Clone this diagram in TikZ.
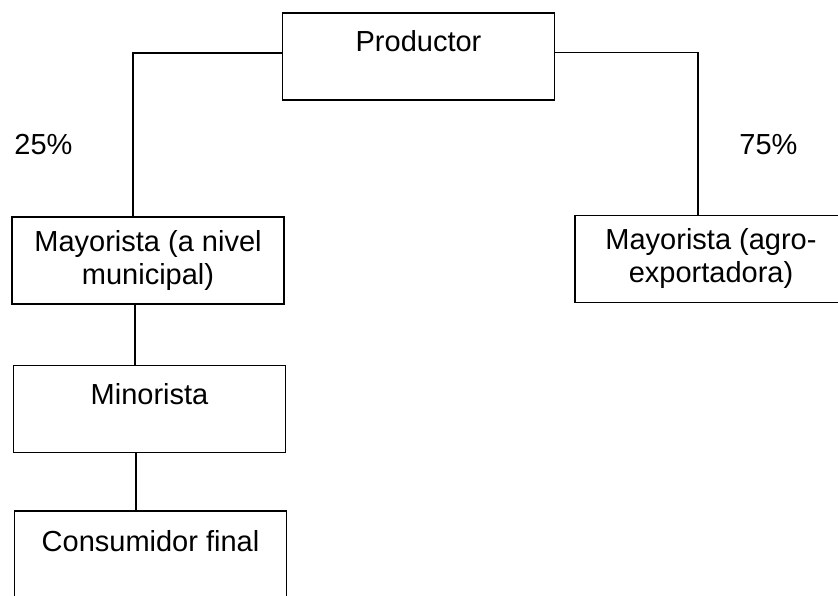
\documentclass[tikz,border=0pt]{standalone}
\usepackage{fontspec}
\setmainfont{Liberation Sans}
\usetikzlibrary{positioning}
\tikzset{
caja/.style={draw, line width=1.2pt, inner sep=0pt, minimum width=272pt, align=center, font=\fontsize{29}{33}\selectfont}, % boxes of the chain
unalinea/.style={text height=39pt, text depth=48pt}, % one line at the top of the box
doslineas/.style={minimum height=87pt}, % two lines, centred
etiqueta/.style={inner sep=0pt, font=\fontsize{29}{33}\selectfont}, % share of the product
enlace/.style={line width=1.2pt}, % connecting lines
}

\begin{document}
\begin{tikzpicture}[x=1pt, y=1pt]
        \path[use as bounding box, clip] (0,0) rectangle (838,-596);
        % top
        \node[caja, unalinea, anchor=base] (prod) at (418.5,-52) {Productor};
        % left branch
        \node[caja, doslineas] (mayA) at (148,-260.5) {Mayorista (a nivel\\municipal)};
        \node[caja, unalinea, anchor=base] (minor) at (149.5,-404.5) {Minorista};
        \node[caja, anchor=base, text height=40pt, text depth=60pt] (cons) at (150.5,-551) {Consumidor final};
        % right branch
        \node[caja, doslineas] (mayB) at (711,-259) {Mayorista (agro-\\exportadora)};
        % shares
        \node[etiqueta, anchor=base] (pA) at (43.5,-155) {25\%};
        \node[etiqueta, anchor=base] (pB) at (768.5,-155) {75\%};
        % lines
        \draw[enlace] ([yshift=3.5pt]prod.west) -| ([xshift=-15pt]mayA.north);
        \draw[enlace] ([yshift=4pt]prod.east) -| ([xshift=-13pt]mayB.north);
        \draw[enlace] ([xshift=-13pt]mayA.south) -- ([xshift=-13pt]mayA.south |- minor.north);
        \draw[enlace] ([xshift=-13.5pt]minor.south) -- ([xshift=-13.5pt]minor.south |- cons.north);
    \end{tikzpicture}
\end{document}
